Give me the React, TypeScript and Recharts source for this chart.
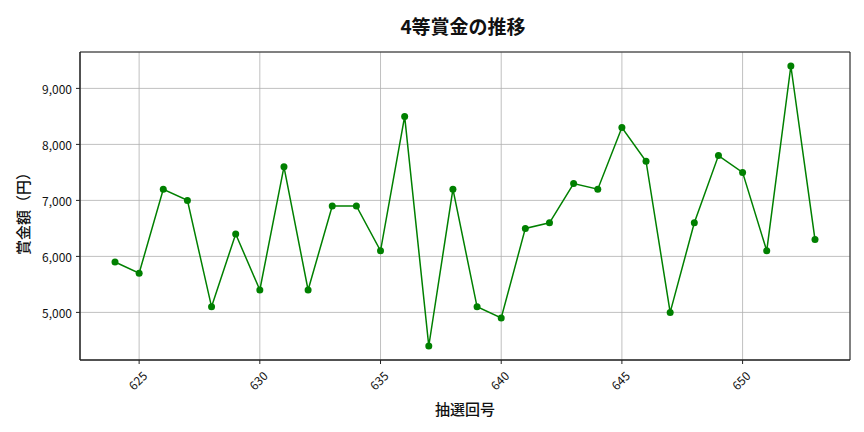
import React from 'react';
import { LineChart, Line, XAxis, YAxis, CartesianGrid, ReferenceArea } from 'recharts';

const draws = [624, 625, 626, 627, 628, 629, 630, 631, 632, 633, 634, 635, 636, 637, 638, 639, 640, 641, 642, 643, 644, 645, 646, 647, 648, 649, 650, 651, 652, 653];
const prizes = [5900, 5700, 7200, 7000, 5100, 6400, 5400, 7600, 5400, 6900, 6900, 6100, 8500, 4400, 7200, 5100, 4900, 6500, 6600, 7300, 7200, 8300, 7700, 5000, 6600, 7800, 7500, 6100, 9400, 6300];
const xTicks = [625, 630, 635, 640, 645, 650];
const yTicks = [5000, 6000, 7000, 8000, 9000];
const title = '4等賞金の推移';
const xLabel = '抽選回号';
const yLabel = '賞金額（円）';

const data = draws.map((d, i) => ({ draw: d, prize: prizes[i] }));

const FONT = '"Noto Sans CJK JP", "Noto Sans", sans-serif';
const X_DOMAIN: [number, number] = [622.55, 654.45];
const Y_DOMAIN: [number, number] = [4150, 9650];

const XTick = (props: any) => {
  const { x, y, payload } = props;
  return (
    <g transform={`translate(${x - 2},${y + 14})`}>
      <text transform="rotate(-45)" textAnchor="middle" dominantBaseline="central" fontSize={12} fill="#111" fontFamily={FONT}>
        {payload.value}
      </text>
    </g>
  );
};

const YTick = (props: any) => {
  const { x, y, payload } = props;
  return (
    <text x={x - 2} y={y} textAnchor="end" dominantBaseline="central" fontSize={12} fill="#111" fontFamily={FONT}>
      {Number(payload.value).toLocaleString('en-US')}
    </text>
  );
};

export default function App() {
  return (
    <div style={{ position: 'absolute', left: 0, top: 0, width: 864, height: 432, background: '#fff' }}>
      <svg width={864} height={432} style={{ position: 'absolute', left: 0, top: 0, pointerEvents: 'none' }}>
        <text x={463} y={25} textAnchor="middle" dominantBaseline="central" fontSize={19} fontWeight={600} fill="#111" fontFamily={FONT}>
          {title}
        </text>
        <text x={465} y={408} textAnchor="middle" dominantBaseline="central" fontSize={15} fontWeight={500} fill="#111" fontFamily={FONT}>
          {xLabel}
        </text>
        <text x={22} y={210} textAnchor="middle" dominantBaseline="central" fontSize={15} fontWeight={500} fill="#111" fontFamily={FONT} transform="rotate(-90 22 210)">
          {yLabel}
        </text>
      </svg>
      <LineChart width={864} height={432} data={data} margin={{ top: 52, right: 14, bottom: 0, left: 0 }}>
        <CartesianGrid stroke="#b0b0b0" strokeWidth={0.8} />
        <XAxis
          dataKey="draw"
          type="number"
          domain={X_DOMAIN}
          ticks={xTicks}
          allowDataOverflow
          height={72}
          tick={<XTick />}
          tickSize={4}
          axisLine={{ stroke: '#222', strokeWidth: 1 }}
          tickLine={{ stroke: '#222' }}
        />
        <YAxis
          type="number"
          domain={Y_DOMAIN}
          ticks={yTicks}
          allowDataOverflow
          width={80}
          tick={<YTick />}
          tickSize={4}
          axisLine={{ stroke: '#222', strokeWidth: 1 }}
          tickLine={{ stroke: '#222' }}
        />
        <ReferenceArea x1={X_DOMAIN[0]} x2={X_DOMAIN[1]} y1={Y_DOMAIN[0]} y2={Y_DOMAIN[1]} fill="none" stroke="#222" strokeWidth={1} ifOverflow="visible" />
        <Line
          type="linear"
          dataKey="prize"
          stroke="#008000"
          strokeWidth={1.5}
          dot={{ r: 3.5, fill: '#008000', stroke: '#008000', strokeWidth: 0 }}
          isAnimationActive={false}
        />
      </LineChart>
    </div>
  );
}
